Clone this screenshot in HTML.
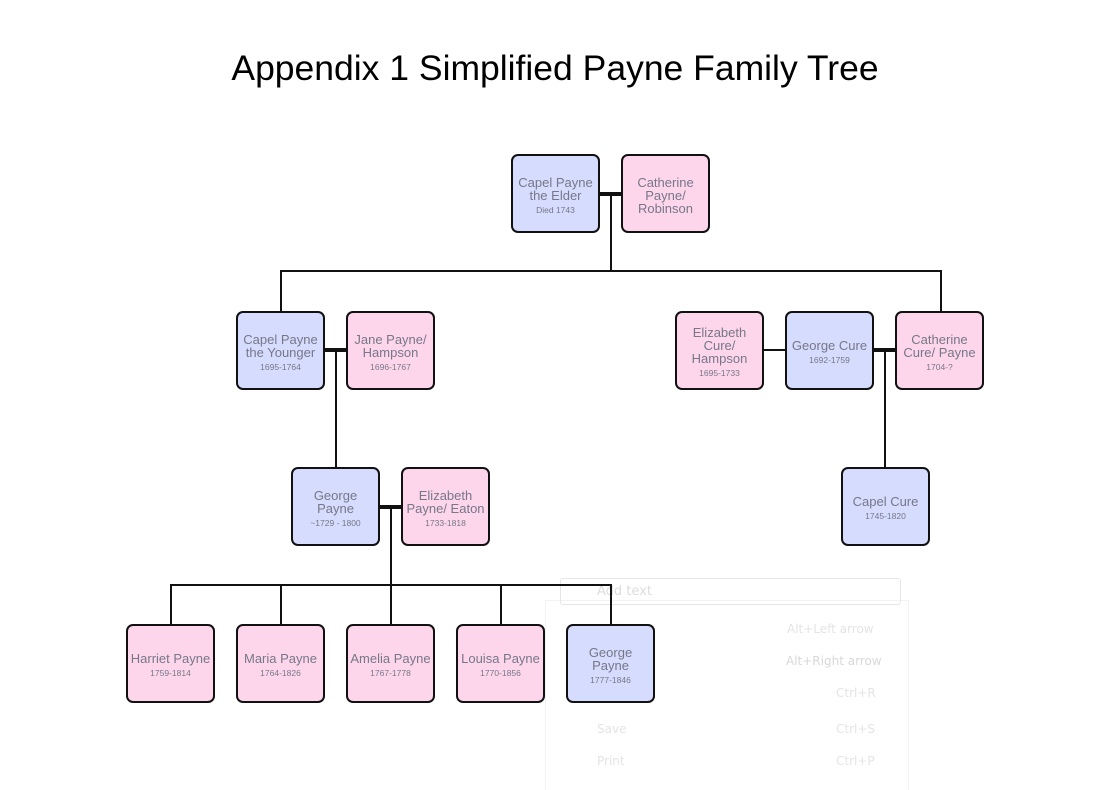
<!DOCTYPE html>
<html><head><meta charset="utf-8"><style>
body{margin:0;width:1116px;height:789px;background:#fff;position:relative;overflow:hidden;font-family:"Liberation Sans",sans-serif}
.t{position:absolute;left:0;width:1110px;top:48px;text-align:center;font-size:35.5px;color:#000}
.b{position:absolute;width:85px;height:72px;padding-top:3px;border:2px solid #111;border-radius:7px;display:flex;flex-direction:column;justify-content:center;align-items:center;text-align:center;color:#777788;font-size:13px;line-height:13px;box-sizing:content-box}
.m{background:#d6dcfd}.f{background:#fdd6ec}
.b small{font-size:8.5px;line-height:10px;margin-top:3px}
.l{position:absolute;background:#111}
.menu{position:absolute;color:#e4e4e4;font-family:"DejaVu Sans",sans-serif;font-size:12px}
</style></head><body>
<div class="t">Appendix 1 Simplified Payne Family Tree</div>
<div style="position:absolute;left:545px;top:600px;width:362px;height:189px;border:1px solid #f3f3f3;border-bottom:none"></div>
<div style="position:absolute;left:560px;top:578px;width:339px;height:25px;border:1px solid #e6e6e6;border-radius:3px"></div>
<div class="menu" style="left:597px;top:584px;color:#ddd;font-size:13px">Add text</div>
<div class="menu" style="left:597px;top:622px">Back</div><div class="menu" style="left:787px;top:622px">Alt+Left arrow</div>
<div class="menu" style="left:597px;top:654px">Forward</div><div class="menu" style="left:786px;top:654px;color:#d8d8d8">Alt+Right arrow</div>
<div class="menu" style="left:597px;top:686px">Refresh</div><div class="menu" style="left:836px;top:686px">Ctrl+R</div>
<div class="menu" style="left:597px;top:722px">Save</div><div class="menu" style="left:836px;top:722px">Ctrl+S</div>
<div class="menu" style="left:597px;top:754px">Print</div><div class="menu" style="left:836px;top:754px">Ctrl+P</div>
<div class="l" style="left:600px;top:192px;width:22px;height:4px"></div>
<div class="l" style="left:610px;top:194px;width:2px;height:78px"></div>
<div class="l" style="left:280px;top:270px;width:662px;height:2px"></div>
<div class="l" style="left:280px;top:270px;width:2px;height:41px"></div>
<div class="l" style="left:940px;top:270px;width:2px;height:41px"></div>
<div class="l" style="left:325px;top:348px;width:22px;height:4px"></div>
<div class="l" style="left:335px;top:350px;width:2px;height:117px"></div>
<div class="l" style="left:764px;top:349px;width:22px;height:2px"></div>
<div class="l" style="left:874px;top:348px;width:22px;height:4px"></div>
<div class="l" style="left:884px;top:350px;width:2px;height:117px"></div>
<div class="l" style="left:380px;top:505px;width:22px;height:4px"></div>
<div class="l" style="left:390px;top:507px;width:2px;height:118px"></div>
<div class="l" style="left:170px;top:584px;width:442px;height:2px"></div>
<div class="l" style="left:170px;top:584px;width:2px;height:41px"></div>
<div class="l" style="left:280px;top:584px;width:2px;height:41px"></div>
<div class="l" style="left:500px;top:584px;width:2px;height:41px"></div>
<div class="l" style="left:610px;top:584px;width:2px;height:41px"></div>
<div class="b m" style="left:511px;top:154px">Capel Payne<br>the Elder<small>Died 1743</small></div>
<div class="b f" style="left:621px;top:154px">Catherine<br>Payne/<br>Robinson</div>
<div class="b m" style="left:236px;top:311px">Capel Payne<br>the Younger<small>1695-1764</small></div>
<div class="b f" style="left:346px;top:311px">Jane Payne/<br>Hampson<small>1696-1767</small></div>
<div class="b f" style="left:675px;top:311px">Elizabeth<br>Cure/<br>Hampson<small>1695-1733</small></div>
<div class="b m" style="left:785px;top:311px">George Cure<small>1692-1759</small></div>
<div class="b f" style="left:895px;top:311px">Catherine<br>Cure/ Payne<small>1704-?</small></div>
<div class="b m" style="left:291px;top:467px">George<br>Payne<small>~1729 - 1800</small></div>
<div class="b f" style="left:401px;top:467px">Elizabeth<br>Payne/ Eaton<small>1733-1818</small></div>
<div class="b m" style="left:841px;top:467px">Capel Cure<small>1745-1820</small></div>
<div class="b f" style="left:126px;top:624px">Harriet Payne<small>1759-1814</small></div>
<div class="b f" style="left:236px;top:624px">Maria Payne<small>1764-1826</small></div>
<div class="b f" style="left:346px;top:624px">Amelia Payne<small>1767-1778</small></div>
<div class="b f" style="left:456px;top:624px">Louisa Payne<small>1770-1856</small></div>
<div class="b m" style="left:566px;top:624px">George<br>Payne<small>1777-1846</small></div>
</body></html>
